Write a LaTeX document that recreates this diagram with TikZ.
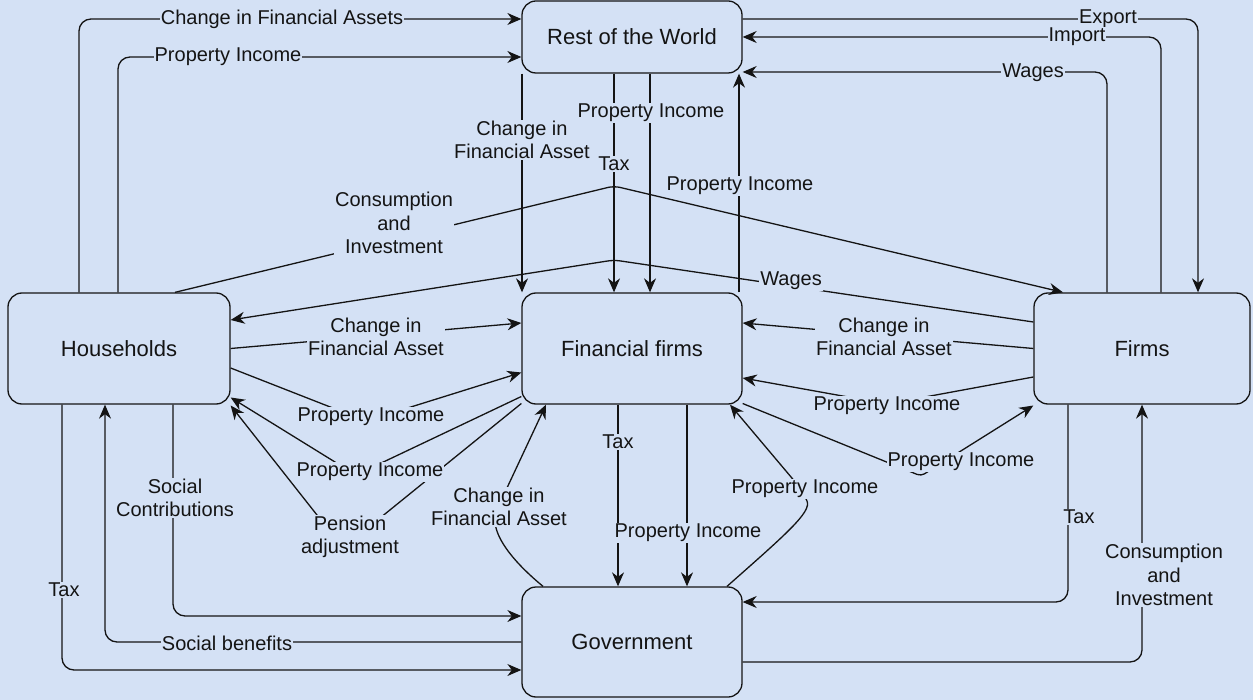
\documentclass[tikz,border=0pt]{standalone}
\usepackage{fontspec}
\setmainfont{Liberation Sans}
\usetikzlibrary{arrows.meta,calc}

\definecolor{bg}{HTML}{D4E1F5}
\definecolor{ink}{HTML}{141414}

\begin{document}
\begin{tikzpicture}[x=1pt,y=-1pt,
  box/.style={draw=ink, line width=1.3pt, rounded corners=14pt, fill=bg,
    minimum width=220pt, minimum height=111pt, inner sep=0pt,
    font=\fontsize{22}{26}\selectfont, text=ink},
  flow/.style={draw=ink, line width=1.3pt, rounded corners=12pt,
    -{Stealth[length=14pt,width=12pt,inset=4.5pt]}},
  lbl/.style={fill=bg, inner sep=1pt, align=center, text=ink,
    font=\fontsize{20}{23.3}\selectfont},
]
\fill[bg] (0,0) rectangle (1253,700);
\useasboundingbox (0,0) rectangle (1253,700);

% sectors
\node[box, minimum height=72pt] (rw) at (632,37) {Rest of the World};
\node[box, minimum width=222pt] (hh) at (119,348.5) {Households};
\node[box] (ff) at (632,348.5) {Financial firms};
\node[box, minimum width=216pt] (fi) at (1142,348.5) {Firms};
\node[box, minimum height=110pt] (gov) at (632,642) {Government};

% bend points of the angled flows
\coordinate (peakC) at (614,186);
\coordinate (peakW) at (614,260);
\coordinate (bendHP) at (366,421);
\coordinate (bendFP) at (356,475);
\coordinate (bendPA) at (343,548);
\coordinate (bendGC) at (499,505);
\coordinate (bendGP) at (802,490);
\coordinate (bendFiP) at (887,404);
\coordinate (bendFF) at (921,476);

% flows with the rest of the world
\draw[flow] ([xshift=-40pt]hh.north) |- ([yshift=18pt]rw.west);
\draw[flow] ([xshift=-1pt]hh.north) |- ([yshift=-20pt]rw.west);
\draw[flow] ([yshift=18pt]rw.east) -| ([xshift=56pt]fi.north);
\draw[flow] ([xshift=19pt]fi.north) |- (rw.east);
\draw[flow] ([xshift=-35pt]fi.north) |- ([yshift=-35pt]rw.east);
\draw[flow] ([xshift=-110pt]rw.south) -- ([xshift=-110pt]ff.north);
\draw[flow] ([xshift=-18pt]rw.south) -- ([xshift=-18pt]ff.north);
\draw[flow] ([xshift=18pt]rw.south) -- ([xshift=18pt]ff.north);
\draw[flow] ([xshift=107pt]ff.north) -- ([xshift=107pt]rw.south);

% households and firms
\draw[flow, rounded corners=6pt] ([xshift=56pt]hh.north) -- (peakC) -- ([xshift=-79pt]fi.north);
\draw[flow, rounded corners=6pt] ([yshift=26.5pt]fi.west) -- (peakW) -- ([yshift=28.5pt]hh.east);

% households and financial firms
\draw[flow] (hh.east) -- ([yshift=25.5pt]ff.west);
\draw[flow, rounded corners=4pt] ([yshift=-19.5pt]hh.east) -- (bendHP) -- ([yshift=-24pt]ff.west);
\draw[flow, rounded corners=4pt] ([yshift=-48pt]ff.west) -- (bendFP) -- ([yshift=-49pt]hh.east);
\draw[flow, rounded corners=4pt] ([yshift=-55pt]ff.west) -- (bendPA) -- ([yshift=-57pt]hh.east);

% financial firms and government
\draw[flow] ([xshift=-89pt]gov.north) .. controls (505,555) and (492,530) .. (bendGC) -- ([xshift=-86pt]ff.south);
\draw[flow] ([xshift=-14pt]ff.south) -- ([xshift=-14pt]gov.north);
\draw[flow] ([xshift=55pt]ff.south) -- ([xshift=55pt]gov.north);
\draw[flow] ([xshift=95pt]gov.north) .. controls (785,535) and (812,512) .. (bendGP) -- ([xshift=98pt]ff.south);

% firms and financial firms
\draw[flow] (fi.west) -- ([yshift=25.5pt]ff.east);
\draw[flow, rounded corners=4pt] ([yshift=-28.5pt]fi.west) -- (bendFiP) -- ([yshift=-29.5pt]ff.east);
\draw[flow, rounded corners=4pt] ([yshift=-55pt]ff.east) -- (bendFF) -- ([yshift=-57pt]fi.west);

% firms and government
\draw[flow] ([xshift=-74pt]fi.south) |- ([yshift=40pt]gov.east);
\draw[flow] ([yshift=-20pt]gov.east) -| (fi.south);

% households and government
\draw[flow] ([xshift=54pt]hh.south) |- ([yshift=26pt]gov.west);
\draw[flow] (gov.west) -| ([xshift=-14pt]hh.south);
\draw[flow] ([xshift=-57pt]hh.south) |- ([yshift=-28pt]gov.west);

% flow labels
\node[lbl] (lA) at (282,19) {Change in Financial Assets};
\node[lbl] (lB) at (228,57) {Property Income};
\node[lbl] (lC) at (1108,19) {Export};
\node[lbl] (lD) at (1077,37) {Import};
\node[lbl] (lE) at (1033,73) {Wages};
\node[lbl] (lF) at (522,140) {Change in\\Financial Asset};
\node[lbl] (lG) at (614,164) {Tax};
\node[lbl] (lH) at (651,113) {Property Income};
\node[lbl] (lI) at (740,186) {Property Income};
\node[lbl] (lJ) at (394,223) {Consumption\\and\\Investment};
\node[lbl] (lK) at (791,281) {Wages};
\node[lbl] (lL) at (376,337) {Change in\\Financial Asset};
\node[lbl] (lM) at (371,417) {Property Income};
\node[lbl] (lN) at (370,472) {Property Income};
\node[lbl] (lO) at (350,537) {Pension\\adjustment};
\node[lbl] (lP) at (499,507) {Change in\\Financial Asset};
\node[lbl] (lQ) at (618,442) {Tax};
\node[lbl] (lR) at (688,533) {Property Income};
\node[lbl] (lS) at (805,489) {Property Income};
\node[lbl] (lT) at (884,337) {Change in\\Financial Asset};
\node[lbl] (lU) at (887,406) {Property Income};
\node[lbl] (lV) at (961,462) {Property Income};
\node[lbl] (lW) at (1079,517) {Tax};
\node[lbl] (lX) at (1164,575) {Consumption\\and\\Investment};
\node[lbl] (lY) at (175,498) {Social\\Contributions};
\node[lbl] (lZ) at (227,643) {Social benefits};
\node[lbl] (lAA) at (64,590) {Tax};
\end{tikzpicture}
\end{document}
